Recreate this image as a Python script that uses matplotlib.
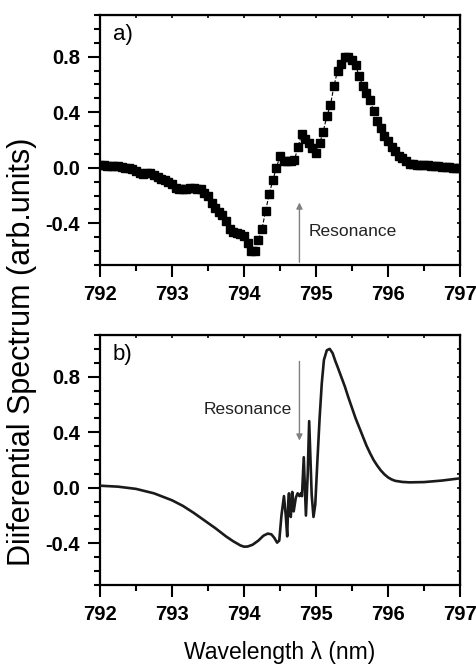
import matplotlib
matplotlib.use("Agg")
import matplotlib.pyplot as plt
from matplotlib.ticker import MultipleLocator, NullFormatter
import numpy as np

plt.rcParams["font.family"] = ["Liberation Sans", "DejaVu Sans"]

# measured spectrum (panel a), one point every 0.05 nm
wl_meas = np.round(np.arange(792.0, 797.0001, 0.05), 2)
sig_meas = [
    0.02, 0.02, 0.015, 0.015, 0.01, 0.01, 0.005, 0.0, -0.005, -0.01,
    -0.02, -0.04, -0.045, -0.035, -0.04, -0.055, -0.065, -0.08, -0.09, -0.105,
    -0.12, -0.145, -0.155, -0.15, -0.15, -0.145, -0.145, -0.15, -0.155, -0.18,
    -0.2, -0.25, -0.29, -0.32, -0.34, -0.38, -0.44, -0.46, -0.47, -0.48,
    -0.49, -0.545, -0.6, -0.6, -0.52, -0.44, -0.31, -0.19, -0.09, 0.0,
    0.085, 0.05, 0.05, 0.05, 0.055, 0.15, 0.24, 0.21, 0.18, 0.145,
    0.11, 0.175, 0.26, 0.37, 0.45, 0.59, 0.70, 0.75, 0.795, 0.80,
    0.775, 0.74, 0.66, 0.59, 0.54, 0.49, 0.41, 0.34, 0.29, 0.23,
    0.19, 0.15, 0.12, 0.085, 0.07, 0.05, 0.03, 0.025, 0.022, 0.022,
    0.02, 0.018, 0.015, 0.012, 0.01, 0.008, 0.005, 0.003, 0.002, 0.0,
    0.0,
]

# calculated spectrum (panel b)
wl_calc = [
    792.0, 792.25, 792.5, 792.75, 793.0, 793.15, 793.3, 793.45, 793.6, 793.75,
    793.85, 793.95, 794.0, 794.05, 794.12, 794.2, 794.27, 794.33, 794.38, 794.42,
    794.46, 794.49, 794.52, 794.555, 794.58,
    794.6, 794.615, 794.625, 794.64, 794.65, 794.67, 794.69, 794.72, 794.745, 794.77,
    794.79, 794.805, 794.83, 794.86, 794.885, 794.905, 794.94, 794.965, 794.99, 795.02,
    795.05, 795.08, 795.11, 795.15, 795.19, 795.23, 795.27, 795.3, 795.35, 795.4,
    795.45, 795.5, 795.55, 795.6, 795.65, 795.7, 795.75, 795.8, 795.85, 795.9,
    795.95, 796.0, 796.05, 796.1, 796.2, 796.3, 796.5, 796.75, 797.0,
]
sig_calc = [
    0.015, 0.008, -0.008, -0.04, -0.09, -0.13, -0.18, -0.235, -0.29, -0.35,
    -0.385, -0.415, -0.424, -0.423, -0.41, -0.38, -0.345, -0.33, -0.335, -0.36,
    -0.395, -0.38, -0.2, -0.06, -0.2,
    -0.35, -0.1, -0.04, -0.2, -0.21, -0.03, -0.17, -0.07, -0.04, -0.06,
    -0.04, -0.06, 0.22, -0.2, 0.1, 0.48, -0.05, -0.21, -0.12, 0.2,
    0.5, 0.75, 0.92, 0.99, 1.0, 0.97, 0.91, 0.87, 0.8, 0.73,
    0.65, 0.575, 0.5, 0.435, 0.37, 0.305, 0.25, 0.2, 0.16, 0.125,
    0.097, 0.075, 0.06, 0.05, 0.042, 0.039, 0.041, 0.052, 0.068,
]

res_wl = 794.77

fig = plt.figure(figsize=(4.77, 6.68), dpi=100)
ax_a = fig.add_axes([100 / 477, 1 - 265 / 668, 360 / 477, 250 / 668])
ax_b = fig.add_axes([100 / 477, 1 - 585 / 668, 360 / 477, 250 / 668])

ax_a.plot(wl_meas, sig_meas, color="black", lw=0.8, ls="--",
          marker="s", ms=5.5, mfc="black", mec="black", zorder=3)
ax_b.plot(wl_calc, sig_calc, color="#1a1a1a", lw=1.9, zorder=3)

for ax in (ax_a, ax_b):
    ax.set_xlim(792, 797)
    ax.set_ylim(-0.7, 1.1)
    ax.xaxis.set_major_locator(MultipleLocator(1))
    ax.xaxis.set_minor_locator(MultipleLocator(0.5))
    ax.set_yticks([-0.4, 0.0, 0.4, 0.8])
    ax.yaxis.set_minor_locator(MultipleLocator(0.1))
    ax.yaxis.set_major_formatter(plt.FuncFormatter(lambda v, p: f"{v:.1f}"))
    for s in ax.spines.values():
        s.set_linewidth(1.6)
    ax.tick_params(which="major", direction="out", length=8.5, width=1.5,
                   labelsize=14.5, pad=6)
    ax.tick_params(which="minor", direction="out", length=4.5, width=1.5)
    for lab in ax.get_xticklabels() + ax.get_yticklabels():
        lab.set_fontweight("bold")
    sx = ax.secondary_xaxis("top")
    sx.xaxis.set_major_locator(MultipleLocator(0.5))
    sx.tick_params(direction="in", length=2.5, width=1.2)
    sx.xaxis.set_major_formatter(NullFormatter())
    sy = ax.secondary_yaxis("right")
    sy.yaxis.set_major_locator(MultipleLocator(0.1))
    sy.tick_params(direction="in", length=2.5, width=1.2)
    sy.yaxis.set_major_formatter(NullFormatter())

ax_a.text(0.035, 0.965, "a)", transform=ax_a.transAxes, fontsize=16,
          ha="left", va="top")
ax_b.text(0.035, 0.965, "b)", transform=ax_b.transAxes, fontsize=16,
          ha="left", va="top")

arrow = dict(arrowstyle="-|>", color="#808080", lw=1.0, mutation_scale=9)
ax_a.annotate("", xy=(res_wl, -0.23), xytext=(res_wl, -0.7), arrowprops=arrow)
ax_a.text(794.9, -0.46, "Resonance", fontsize=12.5, color="#222222",
          ha="left", va="center")
ax_b.annotate("", xy=(res_wl, 0.32), xytext=(res_wl, 0.93), arrowprops=arrow)
ax_b.text(794.67, 0.56, "Resonance", fontsize=12.5, color="#222222",
          ha="right", va="center")

ax_b.set_xlabel("Wavelength λ (nm)", fontsize=16.5, labelpad=12)
fig.text(22 / 477, 0.473, "Diiferential Spectrum (arb.units)", fontsize=22,
         rotation=90, ha="center", va="center")

fig.savefig("out.png", dpi=100)
